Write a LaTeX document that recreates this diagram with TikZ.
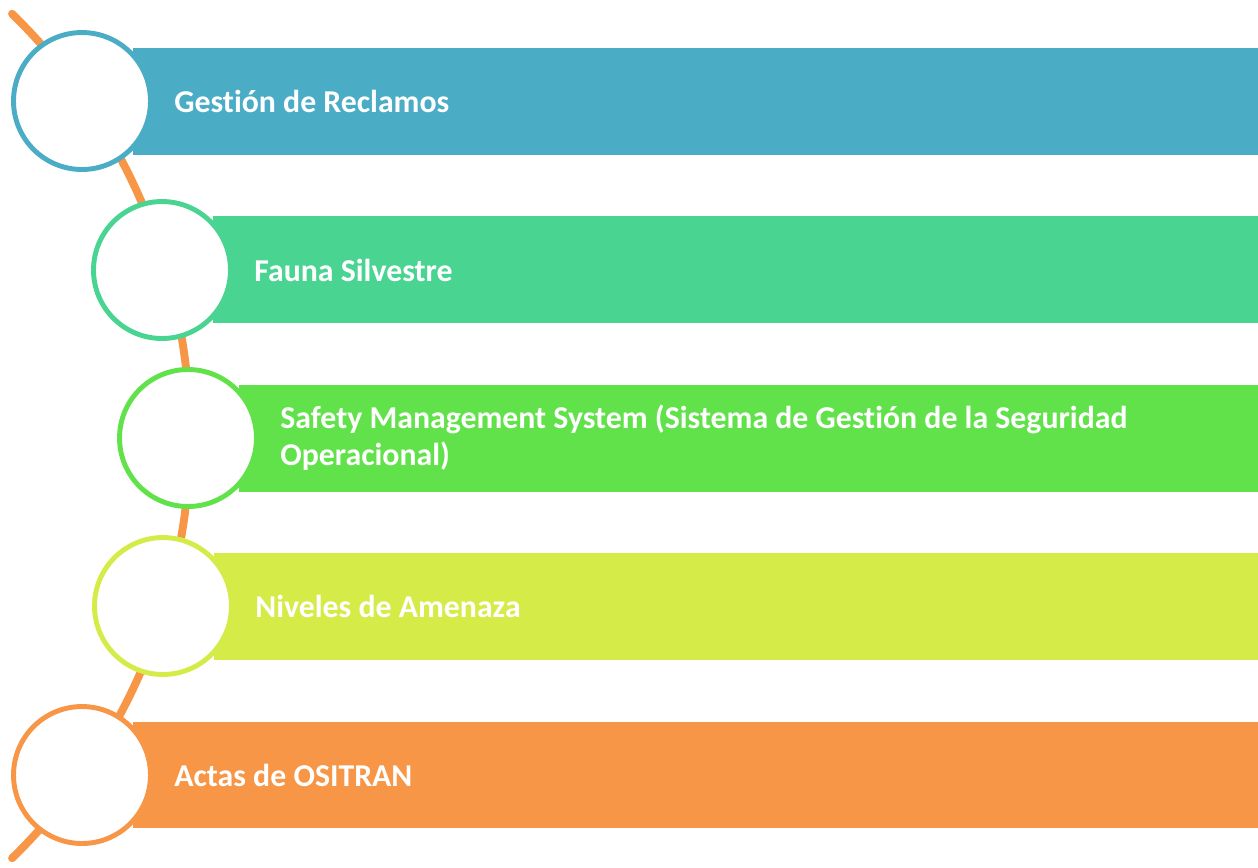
\documentclass[tikz,border=0pt]{standalone}
\usepackage{fontspec}
\setmainfont{Carlito}[Ligatures={NoCommon}]
\usetikzlibrary{positioning}

\definecolor{cBlue}{HTML}{4BACC6}
\definecolor{cTeal}{HTML}{4AD492}
\definecolor{cGreen}{HTML}{61E24A}
\definecolor{cLime}{HTML}{D5EC48}
\definecolor{cOrange}{HTML}{F79646}

\tikzset{
  ring/.style={circle, draw=#1, fill=white, line width=2.8pt,
    minimum size=2.74cm, inner sep=0pt},
  band/.style={fill=#1, draw=none},
  itemtext/.style={anchor=west, text=white, align=left, inner sep=0pt,
    font=\bfseries\fontsize{18.1}{21}\selectfont},
  spine/.style={draw=cOrange, line width=4.5pt, line cap=round}
}

\begin{document}
\begin{tikzpicture}[x=0.02cm, y=-0.02cm]
    \useasboundingbox (0,0) rectangle (1258,867);

    % Spine
    \coordinate (o) at (-400,436);
    \draw[spine] (o) ++(-45.7:590) arc[start angle=-45.7, end angle=45.7, radius=590];

    % Bands
    \fill[band=cBlue]   (133,48)  rectangle (1258,155);
    \fill[band=cTeal]   (213,216) rectangle (1258,323);
    \fill[band=cGreen]  (239,385) rectangle (1258,492);
    \fill[band=cLime]   (214,553) rectangle (1258,660);
    \fill[band=cOrange] (133,722) rectangle (1258,828);

    % Rings
    \node[ring=cBlue]   (r1) at (82,101) {};
    \node[ring=cTeal]   (r2) at (162,270) {};
    \node[ring=cGreen]  (r3) at (188,438) {};
    \node[ring=cLime]   (r4) at (163,606) {};
    \node[ring=cOrange] (r5) at (82,775) {};

    % Texts
    \node[itemtext, right=12pt of r1] (t1) {Gestión de Reclamos};
    \node[itemtext, right=12pt of r2] (t2) {Fauna Silvestre};
    \node[itemtext, right=12pt of r3] (t3) {Safety Management System (Sistema de Gestión de la Seguridad\\Operacional)};
    \node[itemtext, right=12pt of r4] (t4) {Niveles de Amenaza};
    \node[itemtext, right=12pt of r5] (t5) {Actas de OSITRAN};
\end{tikzpicture}
\end{document}
